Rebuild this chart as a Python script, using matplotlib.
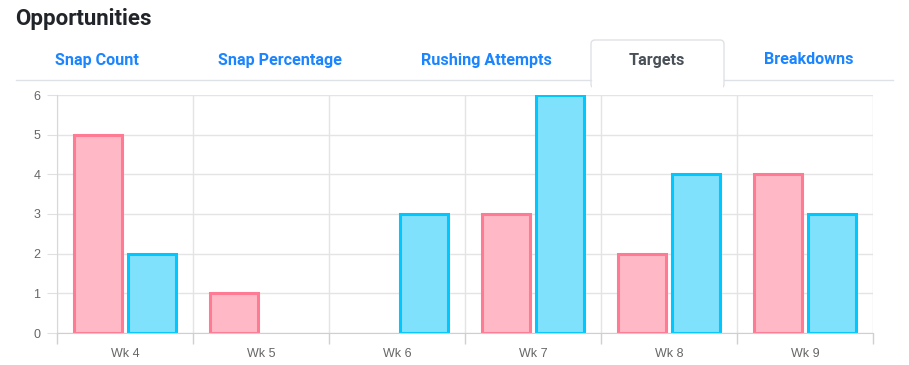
import matplotlib.pyplot as plt
from matplotlib.patches import FancyBboxPatch, Rectangle
from matplotlib.lines import Line2D
from matplotlib.transforms import IdentityTransform

plt.rcParams["font.family"] = ["Roboto", "DejaVu Sans"]

# Data
weeks = ["Wk 4", "Wk 5", "Wk 6", "Wk 7", "Wk 8", "Wk 9"]
series_a = [5, 1, 0, 3, 2, 4]
series_b = [2, 0, 3, 6, 4, 3]
tabs = ["Snap Count", "Snap Percentage", "Rushing Attempts", "Targets", "Breakdowns"]
active_tab = "Targets"

W, H = 909, 365
fig = plt.figure(figsize=(W / 100, H / 100), dpi=100)
px = IdentityTransform()

# Header
fig.text(15 / W, 1 - 19 / H, "Opportunities", fontsize=16, fontweight="bold",
         color="#212529", va="center", ha="left")

# Tabs
tab_x = [97, 280, 486, 657, 809]
tab_left, tab_right = 591, 724
line_y = H - 80
fig.add_artist(Line2D([16, tab_left], [line_y, line_y], color="#dee2e6", lw=1, transform=px))
fig.add_artist(Line2D([tab_right, 893], [line_y, line_y], color="#dee2e6", lw=1, transform=px))
fig.add_artist(FancyBboxPatch((tab_left, line_y - 8), tab_right - tab_left, 48,
                              boxstyle="round,pad=0,rounding_size=4",
                              facecolor="white", edgecolor="#dee2e6", lw=1, transform=px))
fig.add_artist(Rectangle((tab_left + 1, line_y - 10), tab_right - tab_left - 2, 10,
                         facecolor="white", edgecolor="none", transform=px))
for name, x in zip(tabs, tab_x):
    color = "#495057" if name == active_tab else "#1a85ff"
    fig.text(x / W, 1 - 60 / H, name, fontsize=11.6, fontweight="bold",
             color=color, ha="center", va="center")

# Chart
ax = fig.add_axes([57 / W, 32 / H, (873 - 57) / W, (333 - 95) / H])
x = list(range(len(weeks)))
off, bw = 0.2, 0.35
lw_a = [2.2 if v > 0 else 0 for v in series_a]
lw_b = [2.2 if v > 0 else 0 for v in series_b]
ax.bar([i - off for i in x], series_a, width=bw, color="#ffb9c6",
       edgecolor="#ff7a93", linewidth=lw_a, zorder=3)
ax.bar([i + off for i in x], series_b, width=bw, color="#80e1fd",
       edgecolor="#00c8ff", linewidth=lw_b, zorder=3)

ax.set_xlim(-0.5, len(weeks) - 0.5)
ax.set_ylim(0, 6)
ax.set_yticks(range(0, 7))
ax.set_xticks(x)
ax.set_xticklabels(weeks)
ax.set_xticks([i - 0.5 for i in range(len(weeks) + 1)], minor=True)
ax.tick_params(axis="x", which="major", length=0, pad=11, labelsize=9, labelcolor="#666666")
ax.tick_params(axis="x", which="minor", length=8, color="#d0d0d0", width=1)
ax.tick_params(axis="y", length=7, color="#e0e0e0", labelsize=9, labelcolor="#666666", pad=5)
for lab in ax.get_xticklabels() + ax.get_yticklabels():
    lab.set_family(["Liberation Sans", "DejaVu Sans"])
ax.grid(axis="y", color="#e4e4e4", lw=1, zorder=0)
ax.grid(axis="x", which="minor", color="#e4e4e4", lw=1, zorder=0)
for side in ["top", "right"]:
    ax.spines[side].set_visible(False)
ax.spines["left"].set_color("#d8d8d8")
ax.spines["bottom"].set_color("#cfcfcf")
ax.spines["bottom"].set_zorder(4)

fig.savefig("out.png", dpi=100)
